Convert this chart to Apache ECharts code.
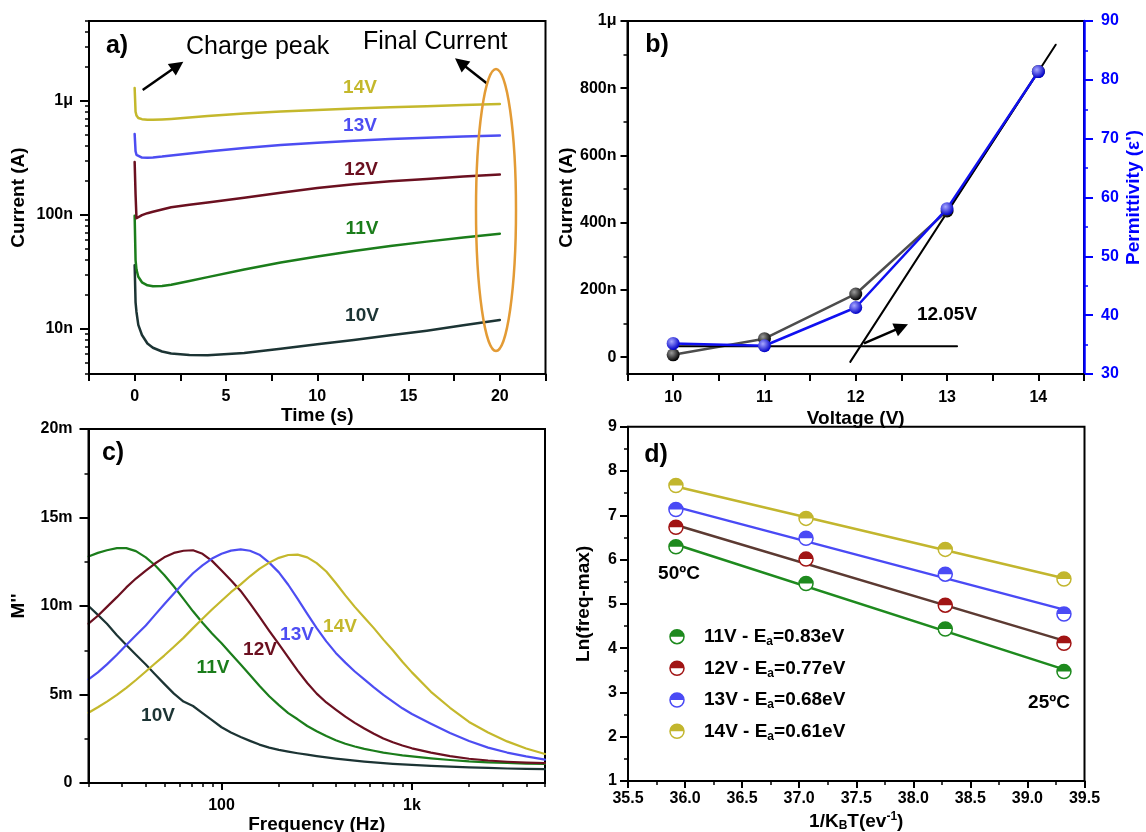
<!DOCTYPE html>
<html>
<head>
<meta charset="utf-8">
<script src="https://cdn.jsdelivr.net/npm/echarts@6/dist/echarts.min.js"></script>
<style>
  html, body { margin: 0; padding: 0; background: #fff; }
  #chart { width: 1146px; height: 832px; }
</style>
</head>
<body>
<div id="chart"></div>
<script>
// ---------- (a) current transients, current in nA ----------
const timeS = [0, 0.05, 0.1, 0.2, 0.4, 0.7, 1, 1.5, 2, 3, 4, 6, 8, 10, 12, 14, 16, 18, 20];
const iT14V = [1290, 800, 740, 705, 688, 681, 680, 685, 692, 712, 735, 772, 805, 830, 855, 875, 895, 915, 935];
const iT13V = [510, 360, 335, 322, 317, 316, 318, 323, 330, 344, 358, 385, 408, 428, 446, 460, 472, 484, 494];
const iT12V = [290, 150, 93, 95, 99, 103, 106, 111, 116, 122, 128, 141, 156, 171, 185, 196, 206, 216, 225];
const iT11V = [98, 40, 33, 28.5, 25.5, 24, 23.5, 23.7, 24.3, 26.2, 28.3, 33.0, 38, 43, 48, 53, 58, 63, 68];
const iT10V = [36, 17, 14, 10.8, 8.8, 7.4, 6.8, 6.3, 6.05, 5.88, 5.85, 6.1, 6.65, 7.3, 7.95, 8.75, 9.6, 10.7, 11.9];
const currentTicks = { 1: '10n', 2: '100n', 3: '1\u03bc' };   // log10(nA) -> label

// ---------- (b) current and permittivity vs voltage ----------
const voltageV = [10, 11, 12, 13, 14];
const currentNA = [7, 55, 188, 435, 850];
const permittivity = [35.2, 34.8, 41.3, 58.1, 81.4];
const baseLineX = [10, 13.11];
const baseLineY = [34.7, 34.7];
const riseLineX = [11.94, 14.19];
const riseLineY = [32.06, 85.97];
const onsetLabel = '12.05V';

// ---------- (c) modulus spectra, M'' in units of 1e-3 ----------
const freqHz = [20, 22.4, 25, 28.2, 31.6, 35.5, 40, 44.7, 50, 56.2, 63.1, 70.8, 79.4, 89.1, 100, 112, 126, 141, 158, 178,
  200, 224, 251, 282, 316, 355, 398, 447, 501, 562, 631, 708, 794, 891, 1000, 1259, 1585, 1995, 2512, 3162, 3981, 5000];
const mpp10V = [10.0, 9.5, 9.0, 8.35, 7.8, 7.25, 6.7, 6.15, 5.6, 5.05, 4.6, 4.35, 3.95, 3.55, 3.15, 2.85, 2.6, 2.38, 2.17, 2.0,
  1.87, 1.77, 1.68, 1.6, 1.52, 1.45, 1.38, 1.32, 1.26, 1.21, 1.16, 1.12, 1.08, 1.05, 1.02, 0.97, 0.92, 0.88, 0.85, 0.82, 0.80, 0.78];
const mpp11V = [12.8, 13.0, 13.15, 13.27, 13.27, 13.1, 12.75, 12.3, 11.75, 11.1, 10.4, 9.7, 9.05, 8.45, 7.9, 7.3, 6.7, 6.1, 5.5, 4.9,
  4.4, 3.95, 3.6, 3.22, 2.92, 2.65, 2.42, 2.22, 2.06, 1.93, 1.82, 1.72, 1.64, 1.56, 1.5, 1.39, 1.3, 1.22, 1.17, 1.13, 1.10, 1.08];
const mpp12V = [9.0, 9.45, 9.95, 10.5, 11.05, 11.55, 12.0, 12.4, 12.75, 13.0, 13.12, 13.15, 12.95, 12.55, 12.0, 11.45, 10.85, 10.15, 9.4, 8.6,
  7.85, 7.1, 6.35, 5.65, 5.05, 4.55, 4.15, 3.75, 3.4, 3.08, 2.78, 2.52, 2.3, 2.12, 1.96, 1.72, 1.52, 1.37, 1.27, 1.2, 1.15, 1.12];
const mpp13V = [5.85, 6.25, 6.7, 7.25, 7.8, 8.35, 8.9, 9.5, 10.1, 10.7, 11.3, 11.85, 12.3, 12.68, 12.95, 13.13, 13.2, 13.12, 12.9, 12.45,
  11.9, 11.2, 10.4, 9.55, 8.75, 8.0, 7.35, 6.8, 6.3, 5.85, 5.4, 4.98, 4.6, 4.22, 3.9, 3.35, 2.82, 2.37, 2.0, 1.72, 1.5, 1.32];
const mpp14V = [3.97, 4.28, 4.6, 4.98, 5.38, 5.82, 6.3, 6.75, 7.2, 7.7, 8.2, 8.75, 9.28, 9.8, 10.3, 10.78, 11.22, 11.68, 12.1, 12.45,
  12.72, 12.88, 12.9, 12.75, 12.42, 11.95, 11.3, 10.6, 9.95, 9.35, 8.75, 8.1, 7.5, 6.85, 6.25, 5.15, 4.25, 3.45, 2.85, 2.35, 1.95, 1.64];
const freqTicks = { 2: '100', 3: '1k' };

// ---------- (d) Arrhenius plot ----------
const invKT = [35.92, 37.06, 38.28, 39.32];
const lnF11V = [6.29, 5.46, 4.43, 3.47];
const lnF12V = [6.73, 6.01, 4.97, 4.11];
const lnF13V = [7.13, 6.48, 5.67, 4.77];
const lnF14V = [7.67, 6.93, 6.23, 5.56];
const fitX = [35.92, 39.32];
const fit11V = [6.34, 3.52];
const fit12V = [6.78, 4.17];
const fit13V = [7.19, 4.87];
const fit14V = [7.65, 5.58];
const voltNames = ['11V', '12V', '13V', '14V'];
const activation = ['0.83', '0.77', '0.68', '0.61'];

// ---------- styling ----------
const FONT = '"Liberation Sans", Arial, Helvetica, sans-serif';
const C = {
  v14: '#C4B82C', v13: '#4D4DF2', v12: '#6B1020', v11: '#1B7D1B', v10: '#1C3434',
  d11: '#1E8A1E', d12: '#A11414', d12line: '#5C3A32', d13: '#4A4AF5', d14: '#C2B62E',
  blue: '#0000FF', orange: '#E39B35'
};
const log10 = Math.log10;

function valueAxis(o) {
  const color = o.color || '#000';
  const ax = {
    type: 'value', gridIndex: o.grid, position: o.position, min: o.min, max: o.max,
    interval: o.interval, name: o.name, nameLocation: 'middle', nameGap: o.nameGap,
    nameRotate: o.nameRotate,
    nameTextStyle: Object.assign({ fontFamily: FONT, fontWeight: 'bold', fontSize: 19, color }, o.nameStyle || {}),
    splitLine: { show: false },
    axisLine: { show: true, onZero: false, lineStyle: { color, width: o.lineWidth || 2 } },
    axisTick: { show: true, inside: false, length: o.tickLen || 7, lineStyle: { color, width: 2 } },
    minorTick: o.minorSplit ? { show: true, splitNumber: o.minorSplit, length: 4, lineStyle: { color, width: 1.5 } } : { show: false },
    axisLabel: { show: true, margin: o.margin, fontFamily: FONT, fontWeight: 'bold', fontSize: 16, color, formatter: o.formatter },
    z: 5
  };
  if (o.labelValues) { ax.axisLabel.customValues = o.labelValues; ax.axisTick.customValues = o.labelValues; }
  return ax;
}
function minorAxis(grid, position, min, max, values) {
  return {
    type: 'value', gridIndex: grid, position, min, max,
    splitLine: { show: false }, axisLine: { show: false, onZero: false }, axisLabel: { show: false },
    axisTick: { show: true, inside: false, length: 4, customValues: values, lineStyle: { color: '#000', width: 1.5 } },
    z: 5
  };
}

// log-axis minor positions (2..9 within each decade)
const logMinor = (decades, lo, hi) => {
  const out = [];
  decades.forEach(d => { for (let k = 2; k <= 9; k++) { const v = k * Math.pow(10, d); if (v >= lo && v <= hi) out.push(log10(v)); } });
  return out;
};

const gridBase = { show: true, borderColor: '#000', borderWidth: 2, backgroundColor: 'transparent', containLabel: false, outerBoundsMode: 'none' };
const grids = [
  Object.assign({ left: 89, top: 21, width: 456.5, height: 353 }, gridBase),
  Object.assign({ left: 627.5, top: 21, width: 456.5, height: 353 }, gridBase),
  Object.assign({ left: 88.5, top: 429, width: 456.5, height: 354 }, gridBase),
  Object.assign({ left: 628, top: 426.7, width: 456.5, height: 354.3 }, gridBase)
];

const xAxes = [
  valueAxis({ grid: 0, position: 'bottom', min: -2.5, max: 22.5, interval: 2.5, name: 'Time (s)', nameGap: 30, margin: 15,
    formatter: v => (v % 5 === 0 ? String(v) : '') }),
  valueAxis({ grid: 1, position: 'bottom', min: 9.5, max: 14.5, interval: 0.5, name: 'Voltage (V)', nameGap: 35, margin: 16,
    formatter: v => (Number.isInteger(v) ? String(v) : '') }),
  valueAxis({ grid: 2, position: 'bottom', min: log10(20), max: log10(5000), name: 'Frequency (Hz)', nameGap: 30, margin: 15,
    labelValues: [2, 3], formatter: v => freqTicks[Math.round(v)] || '' }),
  minorAxis(2, 'bottom', log10(20), log10(5000), logMinor([1, 2, 3], 20, 5000)),
  valueAxis({ grid: 3, position: 'bottom', min: 35.5, max: 39.5, interval: 0.5, minorSplit: 2, margin: 10,
    name: '1/K{sub|B}T(ev{sup|-1})', nameGap: 30,
    nameStyle: { rich: {
      sub: { fontFamily: FONT, fontWeight: 'bold', fontSize: 12, verticalAlign: 'bottom', padding: [9, 0, 0, 0] },
      sup: { fontFamily: FONT, fontWeight: 'bold', fontSize: 12, verticalAlign: 'top', padding: [0, 0, 8, 0] } } },
    formatter: v => v.toFixed(1) })
];

const yAxes = [
  valueAxis({ grid: 0, position: 'left', min: log10(4), max: log10(5000), name: 'Current (A)', nameGap: 61, tickLen: 9, margin: 16,
    labelValues: [1, 2, 3], formatter: v => currentTicks[Math.round(v)] || '' }),
  minorAxis(0, 'left', log10(4), log10(5000), logMinor([0, 1, 2, 3], 4, 5000)),
  valueAxis({ grid: 1, position: 'left', min: -50, max: 1000, name: 'Current (A)', nameGap: 41, margin: 11,
    labelValues: [0, 200, 400, 600, 800, 1000], formatter: v => (v === 0 ? '0' : v === 1000 ? '1\u03bc' : v + 'n') }),
  minorAxis(1, 'left', -50, 1000, [100, 300, 500, 700, 900]),
  valueAxis({ grid: 1, position: 'right', min: 30, max: 90, interval: 10, minorSplit: 2, color: C.blue, lineWidth: 2.5,
    tickLen: 9, margin: 17, name: "Permittivity (\u03b5')", nameGap: 40, nameRotate: 90 }),
  valueAxis({ grid: 2, position: 'left', min: 0, max: 20, interval: 5, minorSplit: 2, name: "M''", nameGap: 60, tickLen: 9, margin: 16,
    formatter: v => (v === 0 ? '0' : v + 'm') }),
  valueAxis({ grid: 3, position: 'left', min: 1, max: 9, interval: 1, minorSplit: 2, name: 'Ln(freq-max)', nameGap: 35, tickLen: 8, margin: 11 })
];

// ---------- series ----------
const series = [];
const lineSeries = (x, y, xi, yi, color, width, extra) => Object.assign({
  type: 'line', xAxisIndex: xi, yAxisIndex: yi, symbol: 'none', showSymbol: false, smooth: false,
  data: x.map((v, i) => [v, y[i]]), lineStyle: { color, width, join: 'round', cap: 'round' }, itemStyle: { color }, z: 3
}, extra || {});

// (a)
[[iT10V, C.v10], [iT11V, C.v11], [iT12V, C.v12], [iT13V, C.v13], [iT14V, C.v14]].forEach(([vals, col]) => {
  series.push(lineSeries(timeS, vals.map(v => log10(v)), 0, 0, col, 2.5));
});

// (b)
const sphere = (hi, lo) => ({ type: 'radial', x: 0.38, y: 0.35, r: 0.65, colorStops: [{ offset: 0, color: hi }, { offset: 1, color: lo }] });
series.push(lineSeries(voltageV, currentNA, 1, 2, '#4d4d4d', 2.5, {
  symbol: 'circle', showSymbol: true, symbolSize: 13, itemStyle: { color: sphere('#9a9a9a', '#000') } }));
series.push(lineSeries(baseLineX, baseLineY, 1, 4, '#000', 2));
series.push(lineSeries(riseLineX, riseLineY, 1, 4, '#000', 2));
series.push(lineSeries(voltageV, permittivity, 1, 4, '#1010F0', 2.5, {
  symbol: 'circle', showSymbol: true, symbolSize: 13, itemStyle: { color: sphere('#a8a8ff', '#0000C8') }, z: 4 }));

// (c)
const logF = freqHz.map(f => log10(f));
[[mpp10V, C.v10], [mpp11V, C.v11], [mpp12V, C.v12], [mpp13V, C.v13], [mpp14V, C.v14]].forEach(([vals, col]) => {
  series.push(lineSeries(logF, vals, 2, 5, col, 2.2));
});

// (d)
const halfTop = 'path://M0,10A10,10,0,0,1,20,10Z';
[[lnF11V, fit11V, C.d11, C.d11], [lnF12V, fit12V, C.d12, C.d12line], [lnF13V, fit13V, C.d13, C.d13], [lnF14V, fit14V, C.d14, C.d14]]
  .forEach(([pts, fit, col, lineCol]) => {
    series.push(lineSeries(fitX, fit, 4, 6, lineCol, 2.5));
    series.push({ type: 'scatter', xAxisIndex: 4, yAxisIndex: 6, symbol: 'circle', symbolSize: 14,
      data: invKT.map((x, i) => [x, pts[i]]), itemStyle: { color: '#fff', borderColor: col, borderWidth: 1.5, opacity: 1 }, z: 4 });
    series.push({ type: 'scatter', xAxisIndex: 4, yAxisIndex: 6, symbol: halfTop, symbolSize: [14, 7], symbolOffset: [0, -3.5],
      data: invKT.map((x, i) => [x, pts[i]]), itemStyle: { color: col, opacity: 1 }, z: 5 });
  });

// ---------- annotations ----------
function txt(text, x, y, color, size, weight, align) {
  return { type: 'text', x, y, z: 50, silent: true,
    style: { text, fill: color, fontFamily: FONT, fontSize: size, fontWeight: weight || 'bold',
      align: align || 'center', verticalAlign: 'middle', textAlign: align || 'center', textVerticalAlign: 'middle' } };
}
function arrow(x1, y1, x2, y2) {
  const dx = x2 - x1, dy = y2 - y1, L = Math.hypot(dx, dy), ux = dx / L, uy = dy / L;
  const hl = 14, hw = 7, bx = x2 - ux * hl, by = y2 - uy * hl;
  return [
    { type: 'line', z: 50, silent: true, shape: { x1, y1, x2: bx + ux * 2, y2: by + uy * 2 }, style: { stroke: '#000', lineWidth: 2.5 } },
    { type: 'polygon', z: 50, silent: true, shape: { points: [[x2, y2], [bx - uy * hw, by + ux * hw], [bx + uy * hw, by - ux * hw]] }, style: { fill: '#000' } }
  ];
}
const els = [];
// panel a
els.push(txt('a)', 117, 46, '#000', 25));
els.push(txt('Charge peak', 186, 47, '#000', 25, 'normal', 'left'));
els.push(...arrow(142.7, 90, 183.3, 61.7));
els.push(txt('Final Current', 363, 42, '#000', 25, 'normal', 'left'));
els.push(...arrow(486.7, 83.3, 455, 58.3));
els.push({ type: 'ellipse', z: 50, silent: true, shape: { cx: 496, cy: 210, rx: 20, ry: 141 }, style: { fill: 'none', stroke: C.orange, lineWidth: 2.5 } });
els.push(txt('14V', 360, 88, C.v14, 19));
els.push(txt('13V', 360, 125.5, C.v13, 19));
els.push(txt('12V', 361, 169.5, C.v12, 19));
els.push(txt('11V', 362, 229, C.v11, 19));
els.push(txt('10V', 362, 316, C.v10, 19));
// panel b
els.push(txt('b)', 657, 45, '#000', 25));
els.push(txt(onsetLabel, 947, 315, '#000', 19));
els.push(...arrow(864, 343.3, 908, 324.3));
// panel c
els.push(txt('c)', 113, 453, '#000', 25));
els.push(txt('10V', 158, 716, C.v10, 19));
els.push(txt('11V', 213, 668, C.v11, 19));
els.push(txt('12V', 260, 649.5, C.v12, 19));
els.push(txt('13V', 297, 635, C.v13, 19));
els.push(txt('14V', 340, 626.7, C.v14, 19));
// panel d
els.push(txt('d)', 656, 455, '#000', 25));
els.push(txt('50\u00baC', 679, 574, '#000', 19));
els.push(txt('25\u00baC', 1049, 703, '#000', 19));
const legendCols = [C.d11, C.d12, C.d13, C.d14];
const legendY = [636.7, 668.3, 700, 731.3];
voltNames.forEach((v, i) => {
  const y = legendY[i], col = legendCols[i];
  els.push({ type: 'circle', z: 50, silent: true, shape: { cx: 677, cy: y, r: 7 }, style: { fill: '#fff', stroke: col, lineWidth: 1.5 } });
  els.push({ type: 'sector', z: 51, silent: true, shape: { cx: 677, cy: y, r0: 0, r: 7, startAngle: Math.PI, endAngle: 2 * Math.PI }, style: { fill: col } });
  els.push({ type: 'text', z: 50, silent: true, x: 704, y,
    style: { text: v + ' - E{s|a}=' + activation[i] + 'eV', fill: '#000', fontFamily: FONT, fontSize: 19, fontWeight: 'bold',
      align: 'left', verticalAlign: 'middle', textAlign: 'left', textVerticalAlign: 'middle',
      rich: { s: { fontFamily: FONT, fontSize: 12, fontWeight: 'bold', fill: '#000', verticalAlign: 'bottom', padding: [10, 0, 0, 0] } } } });
});

const chart = echarts.init(document.getElementById('chart'));
chart.setOption({
  animation: false,
  backgroundColor: '#fff',
  grid: grids,
  xAxis: xAxes,
  yAxis: yAxes,
  series,
  graphic: { elements: els }
});
</script>
</body>
</html>
